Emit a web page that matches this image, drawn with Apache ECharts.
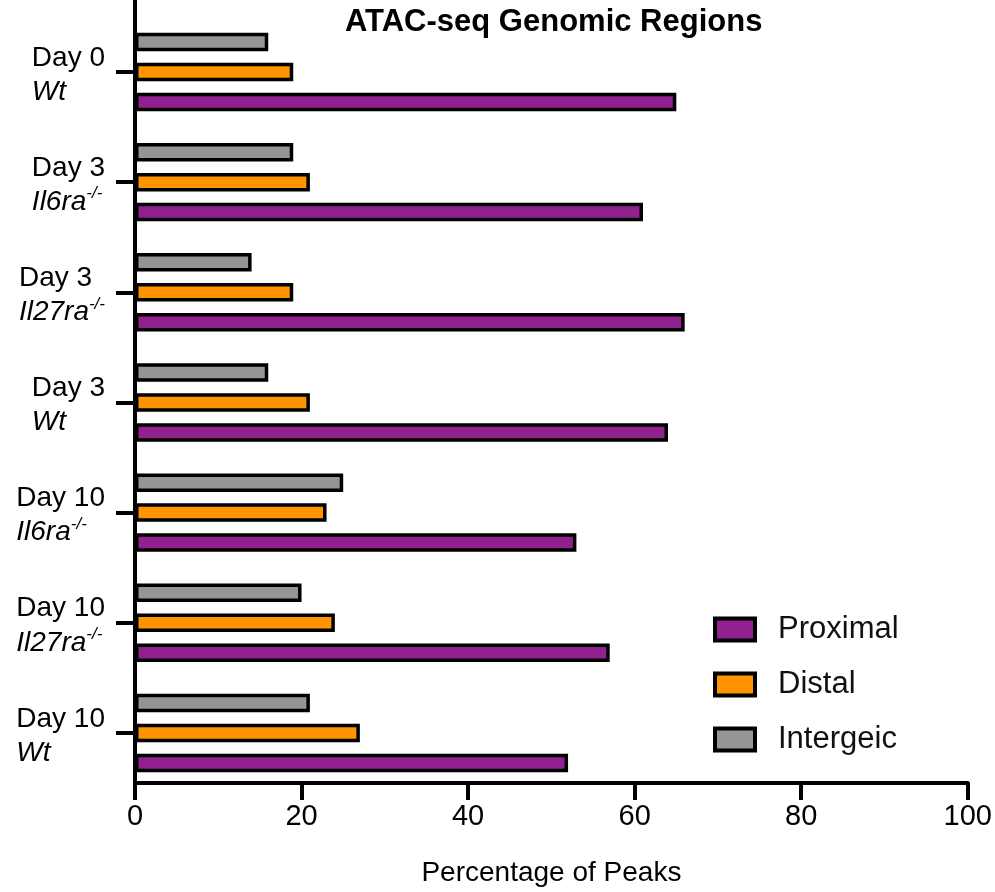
<!DOCTYPE html>
<html>
<head>
<meta charset="utf-8">
<script src="https://cdn.jsdelivr.net/npm/echarts@6/dist/echarts.min.js"></script>
<style>
  html, body { margin: 0; padding: 0; background: #fff; }
  #chart { width: 995px; height: 892px; }
</style>
</head>
<body>
<div id="chart"></div>
<script>
// Sample groups: time point, genotype and whether the genotype is a knockout (-/-)
const days = ['Day 0', 'Day 3', 'Day 3', 'Day 3', 'Day 10', 'Day 10', 'Day 10'];
const genotypes = ['Wt', 'Il6ra', 'Il27ra', 'Wt', 'Il6ra', 'Il27ra', 'Wt'];
const knockout = [false, true, true, false, true, true, false];

// Percentage of ATAC-seq peaks falling in each genomic region
const proximal = [65, 61, 66, 64, 53, 57, 52];
const distal = [19, 21, 19, 21, 23, 24, 27];
const intergenic = [16, 19, 14, 16, 25, 20, 21];

// Value axis ticks
const xMin = 0, xMax = 100, xStep = 20;

const categories = days.map((d, i) => d + ' ' + genotypes[i] + (knockout[i] ? '-/-' : ''));

const FONT = '"Liberation Sans", Arial, Helvetica, sans-serif';
const COLORS = { proximal: '#90218F', distal: '#FF9300', intergenic: '#959595' };

const barStyle = (color) => ({ color: color, borderColor: '#000', borderWidth: 3.5 });
const BAR_W = 18.5;

const chart = echarts.init(document.getElementById('chart'), null, { renderer: 'canvas' });

chart.setOption({
  animation: false,
  backgroundColor: '#fff',
  textStyle: { fontFamily: FONT },
  title: {
    text: 'ATAC-seq Genomic Regions',
    left: 345,
    top: 7,
    padding: 0,
    textStyle: { fontFamily: FONT, fontSize: 31, fontWeight: 'bold', color: '#000' }
  },
  legend: {
    orient: 'vertical',
    left: 713,
    top: 614,
    padding: 0,
    itemWidth: 40,
    itemHeight: 22,
    itemGap: 24,
    icon: 'rect',
    data: ['Proximal', 'Distal', 'Intergeic'],
    itemStyle: { borderColor: '#000', borderWidth: 4 },
    textStyle: { fontFamily: FONT, fontSize: 31, color: '#111', lineHeight: 30, padding: [0, 0, 0, 18] }
  },
  grid: [
    { left: 135, right: 26.5, top: 16.9, bottom: 98.2 },
    { left: 135, right: 26.5, top: 0, height: 20 }
  ],
  xAxis: [
    {
      type: 'value',
      gridIndex: 0,
      min: xMin,
      max: xMax,
      interval: xStep,
      offset: -5,
      axisLine: { show: true, lineStyle: { color: '#000', width: 4 } },
      axisTick: { show: true, length: 17, lineStyle: { color: '#000', width: 4 } },
      axisLabel: { fontFamily: FONT, fontSize: 29, color: '#000', margin: 19 },
      splitLine: { show: false },
      name: 'Percentage of Peaks',
      nameLocation: 'middle',
      nameGap: 90,
      nameTextStyle: { fontFamily: FONT, fontSize: 28, color: '#000', verticalAlign: 'middle' }
    },
    { type: 'value', gridIndex: 1, show: false }
  ],
  yAxis: [
    {
      type: 'category',
      gridIndex: 0,
      inverse: true,
      data: categories,
      axisLine: { show: true, lineStyle: { color: '#000', width: 4 } },
      axisTick: { show: true, alignWithLabel: true, length: 19, lineStyle: { color: '#000', width: 4 } },
      axisLabel: {
        margin: 30,
        align: 'right',
        padding: [6, 0, 0, 0],
        formatter: (v, i) => `{d|${days[i]}}\n{g|${genotypes[i]}}` + (knockout[i] ? '{s|-/-}' : ''),
        rich: {
          d: { fontFamily: FONT, fontSize: 28, lineHeight: 34, color: '#000', align: 'left' },
          g: { fontFamily: FONT, fontSize: 28, lineHeight: 34, color: '#000', fontStyle: 'italic', align: 'left' },
          s: { fontFamily: FONT, fontSize: 17, lineHeight: 24, color: '#000', fontStyle: 'italic', verticalAlign: 'top', align: 'left' }
        }
      },
      splitLine: { show: false }
    },
    {
      // upper extension of the left axis line
      type: 'value',
      gridIndex: 1,
      axisLine: { show: true, lineStyle: { color: '#000', width: 4 } },
      axisTick: { show: false },
      axisLabel: { show: false },
      splitLine: { show: false }
    }
  ],
  series: [
    { name: 'Intergeic', type: 'bar', xAxisIndex: 0, yAxisIndex: 0, data: intergenic, barWidth: BAR_W, barGap: '62%', itemStyle: barStyle(COLORS.intergenic) },
    { name: 'Distal', type: 'bar', xAxisIndex: 0, yAxisIndex: 0, data: distal, barWidth: BAR_W, barGap: '62%', itemStyle: barStyle(COLORS.distal) },
    { name: 'Proximal', type: 'bar', xAxisIndex: 0, yAxisIndex: 0, data: proximal, barWidth: BAR_W, barGap: '62%', itemStyle: barStyle(COLORS.proximal) }
  ]
});
</script>
</body>
</html>
